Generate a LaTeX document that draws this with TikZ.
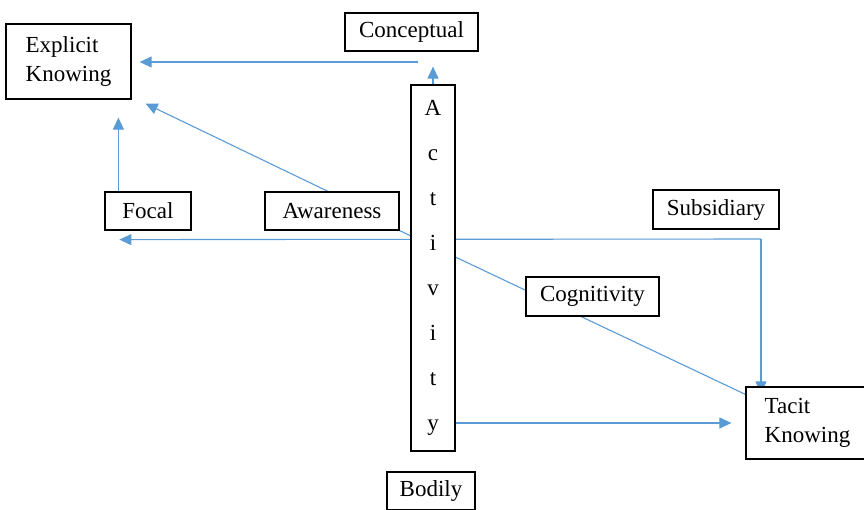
\documentclass[tikz,border=0pt]{standalone}
\usepackage{fontspec}
\setmainfont{Liberation Serif}
\usetikzlibrary{arrows.meta,backgrounds}
\definecolor{linkblue}{RGB}{91,155,213}

\begin{document}
\begin{tikzpicture}[x=1pt,y=-1pt,
    box/.style={draw=black,line width=1.2pt,fill=white,inner sep=0pt,font=\fontsize{23}{29}\selectfont},
    link/.style={draw=linkblue,line width=1.1pt},
    arrow/.style={link,-{Triangle[length=12pt,width=11pt]}}]
  \useasboundingbox (0,0) rectangle (864,509);

  \node[box,minimum width=125pt,minimum height=75pt,align=left] at (68.5,61.5) (explicit) {Explicit\\Knowing};
  \node[box,minimum width=133pt,minimum height=38pt] at (411.5,32) (conceptual) {Conceptual};
  \node[box,minimum width=44pt,minimum height=366pt,align=center,font=\fontsize{23}{45}\selectfont] at (433,268) (activity) {A\\c\\t\\i\\v\\i\\t\\y};
  \node[box,minimum width=86pt,minimum height=38pt] at (148,211) (focal) {Focal};
  \node[box,minimum width=134pt,minimum height=38pt] at (332,211) (awareness) {Awareness};
  \node[box,minimum width=126pt,minimum height=39pt] at (716,209.5) (subsidiary) {Subsidiary};
  \node[box,minimum width=133pt,minimum height=39pt] at (592.5,296.5) (cognitivity) {Cognitivity};
  \node[box,minimum width=123pt,minimum height=72pt,align=left] at (807.5,423) (tacit) {Tacit\\Knowing};
  \node[box,minimum width=88pt,minimum height=38pt] at (431,491) (bodily) {Bodily};

  \begin{scope}[on background layer]
    \coordinate (cstart) at (418,62);
    \coordinate (bend) at (761,239);
    \draw[arrow,shorten >=8pt] (cstart) -- (cstart -| explicit.east);
    \draw[arrow,shorten >=15pt] (activity.north) -- (activity.north |- conceptual.south);
    \draw[arrow] ([xshift=-4pt]awareness.north) -- ([xshift=14pt,yshift=-4pt]explicit.south east);
    \draw[arrow,shorten >=18pt] ([xshift=14pt]focal.north west) -- ([xshift=14pt]focal.north west |- explicit.south);
    \draw[arrow] (bend) -- ([xshift=15pt,yshift=-9pt]focal.south west);
    \draw[arrow] (bend) -- ([yshift=-7pt]bend |- tacit.north);
    \draw[link] (awareness.south east) -- ([yshift=-8pt]tacit.north west);
    \draw[arrow,shorten >=14pt] (activity.east |- tacit.west) -- (tacit.west);
  \end{scope}
\end{tikzpicture}
\end{document}
